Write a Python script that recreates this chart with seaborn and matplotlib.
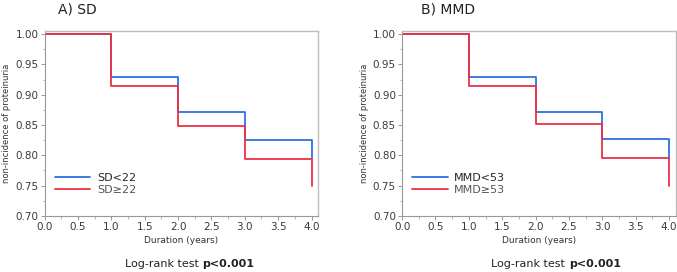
import numpy as np
import pandas as pd
import seaborn as sns
import matplotlib.pyplot as plt
from matplotlib.ticker import MultipleLocator

# Kaplan-Meier step values
times = [0, 1, 2, 3, 4, 4]
sd_low = [1.000, 0.929, 0.871, 0.826, 0.826, 0.795]
sd_high = [1.000, 0.915, 0.849, 0.794, 0.794, 0.750]
mmd_low = [1.000, 0.929, 0.871, 0.827, 0.827, 0.795]
mmd_high = [1.000, 0.915, 0.851, 0.795, 0.795, 0.750]

panels = [
    ("A) SD", "SD<22", "SD\u226522", sd_low, sd_high),
    ("B) MMD", "MMD<53", "MMD\u226553", mmd_low, mmd_high),
]

sns.set_style("white")
plt.rcParams['font.family'] = ['DejaVu Sans']

blue = "#2f6fe4"
red = "#ee3045"
grey = "#bdbdbd"

fig = plt.figure(figsize=(6.77, 2.72), dpi=100)
positions = [[0.066, 0.206, 0.404, 0.68], [0.594, 0.206, 0.404, 0.68]]
title_x = [0.085, 0.622]
text_x = [0.299, 0.840]

for i, (title, lab1, lab2, low, high) in enumerate(panels):
    ax = fig.add_axes(positions[i])
    df = pd.DataFrame({
        "time": times + times,
        "surv": low + high,
        "group": [lab1] * len(times) + [lab2] * len(times),
    })
    sns.lineplot(data=df, x="time", y="surv", hue="group", estimator=None,
                 sort=False, drawstyle="steps-post", palette=[blue, red],
                 linewidth=1.3, ax=ax)
    ax.set_xlim(0, 4.1)
    ax.set_ylim(0.70, 1.005)
    ax.xaxis.set_major_locator(MultipleLocator(0.5))
    ax.xaxis.set_minor_locator(MultipleLocator(0.25))
    ax.yaxis.set_major_locator(MultipleLocator(0.05))
    ax.yaxis.set_minor_locator(MultipleLocator(0.025))
    ax.xaxis.set_major_formatter(plt.FormatStrFormatter('%.1f'))
    ax.yaxis.set_major_formatter(plt.FormatStrFormatter('%.2f'))
    ax.tick_params(axis='both', which='major', direction='out', length=3,
                   width=0.6, color='#888888', labelsize=7.5, labelcolor='#3a3a3a',
                   bottom=True, left=True, pad=1.5)
    ax.tick_params(axis='both', which='minor', direction='out', length=1.8,
                   width=0.5, color='#999999', bottom=True, left=True)
    for side in ['top', 'right']:
        ax.spines[side].set_color(grey)
        ax.spines[side].set_linewidth(1.0)
    for side in ['left', 'bottom']:
        ax.spines[side].set_color('#999999')
        ax.spines[side].set_linewidth(0.8)
    ax.set_xlabel("Duration (years)", fontsize=6.5, color='#333333', labelpad=3)
    ax.set_ylabel("non-incidence of proteinuria", fontsize=6, color='#333333', labelpad=3)
    leg = ax.legend(loc='lower left', bbox_to_anchor=(0.0, 0.06), frameon=False,
                    fontsize=8, handlelength=3.2, handletextpad=0.6,
                    labelspacing=0.15)
    leg.get_texts()[1].set_color('#555555')
    fig.text(title_x[i], 0.965, title, fontsize=10, va='center', ha='left', color='#222222')
    # p-value line, normal and bold parts side by side
    fig.text(text_x[i], 0.028, "Log-rank test ", fontsize=8, ha='right', va='center', color='#222222')
    fig.text(text_x[i], 0.028, "p<0.001", fontsize=8, ha='left', va='center',
             fontweight='bold', color='#222222')

fig.savefig("out.png", dpi=100)
